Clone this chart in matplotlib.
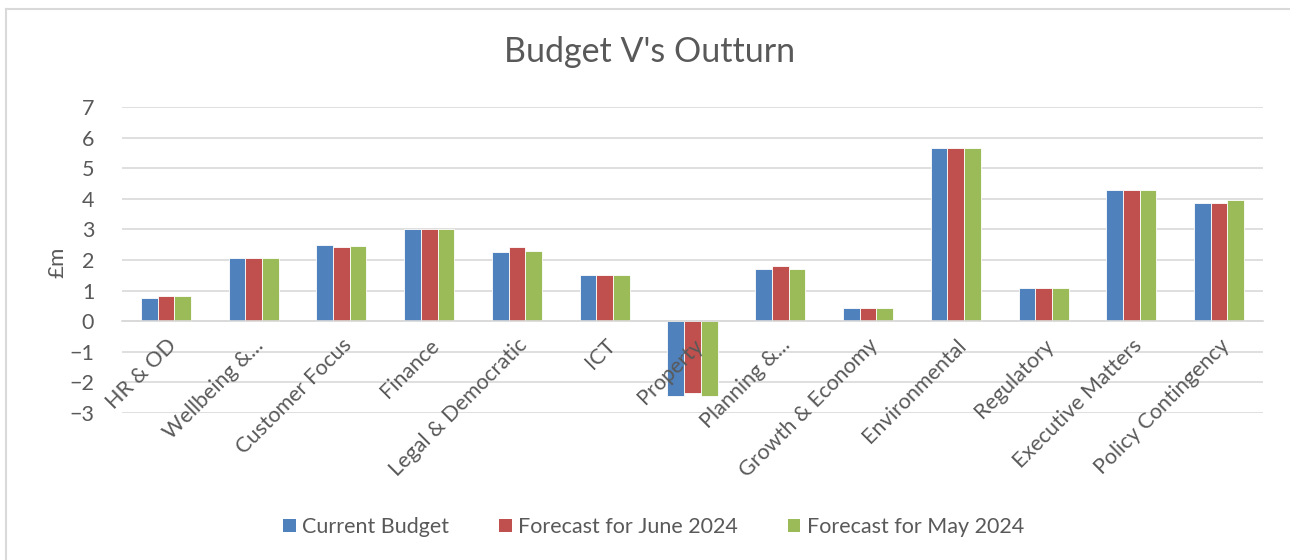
import matplotlib
matplotlib.use('Agg')
import matplotlib.pyplot as plt
import numpy as np
from matplotlib.patches import Patch

plt.rcParams['font.family'] = ['Lato', 'DejaVu Sans']

categories = ["HR & OD", "Wellbeing &...", "Customer Focus", "Finance",
              "Legal & Democratic", "ICT", "Property", "Planning &...",
              "Growth & Economy", "Environmental", "Regulatory",
              "Executive Matters", "Policy Contingency"]
current_budget = [0.77, 2.05, 2.50, 3.02, 2.27, 1.50, -2.45, 1.70, 0.44, 5.65, 1.08, 4.28, 3.87]
forecast_june = [0.81, 2.05, 2.42, 3.02, 2.42, 1.50, -2.36, 1.81, 0.44, 5.65, 1.08, 4.28, 3.87]
forecast_may = [0.81, 2.05, 2.47, 3.02, 2.28, 1.50, -2.45, 1.70, 0.44, 5.65, 1.08, 4.28, 3.97]
series_names = ["Current Budget", "Forecast for June 2024", "Forecast for May 2024"]
colors = ["#4F81BD", "#C0504D", "#9BBB59"]
text_col = "#595959"
grid_col = "#D9D9D9"
yticks = np.arange(-3, 8, 1)

fig = plt.figure(figsize=(12.9, 5.6), dpi=100)
ax = fig.add_axes([122 / 1290, 1 - 413 / 560, (1263 - 122) / 1290, (413 - 107) / 560])

# chart frame (left/top edges visible, rest cropped off)
fig.add_artist(plt.Line2D([6 / 1290, 6 / 1290], [0, 1 - 9 / 560], transform=fig.transFigure,
                          color="#D9D9D9", linewidth=1.5))
fig.add_artist(plt.Line2D([6 / 1290, 1], [1 - 9 / 560, 1 - 9 / 560], transform=fig.transFigure,
                          color="#D9D9D9", linewidth=1.5))

for yv in yticks:
    ax.axhline(yv, color=grid_col, linewidth=1.2, zorder=0)

x = np.arange(len(categories))
w = 0.19
for i, (vals, name) in enumerate(zip([current_budget, forecast_june, forecast_may], series_names)):
    ax.bar(x + (i - 1) * w, vals, width=w, color=colors[i], edgecolor="white",
           linewidth=0.6, label=name, zorder=1)

ax.set_xlim(-0.5, len(categories) - 0.5)
ax.set_ylim(-3, 7)
ax.set_yticks(yticks)
for s in ["top", "right", "left"]:
    ax.spines[s].set_visible(False)
ax.spines["bottom"].set_position(("data", 0))
ax.spines["bottom"].set_color(grid_col)
ax.spines["bottom"].set_linewidth(1.2)

ax.set_xticks(x)
ax.set_xticklabels(categories, rotation=45, ha="right", va="top",
                   rotation_mode="anchor", fontsize=15.5, color=text_col)
ax.tick_params(axis="x", length=0, pad=10)
ax.tick_params(axis="y", length=0, pad=20, labelsize=15.5, labelcolor=text_col)

fig.text(57 / 1290, 1 - 262 / 560, "£m", rotation=90, ha="center", va="center",
         fontsize=16, color=text_col)
fig.text(0.5 + 5 / 1290, 1 - 52 / 560, "Budget V's Outturn", ha="center", va="center",
         fontsize=24.5, color=text_col)

handles = [Patch(facecolor=c, label=n) for c, n in zip(colors, series_names)]
fig.legend(handles=handles, loc="center", bbox_to_anchor=(0.5066, 1 - 527 / 560), ncol=3,
           frameon=False, fontsize=15.5, labelcolor=text_col, handlelength=0.6,
           handleheight=0.6, handletextpad=0.3, columnspacing=2.3)

fig.savefig("out.png", dpi=100)
